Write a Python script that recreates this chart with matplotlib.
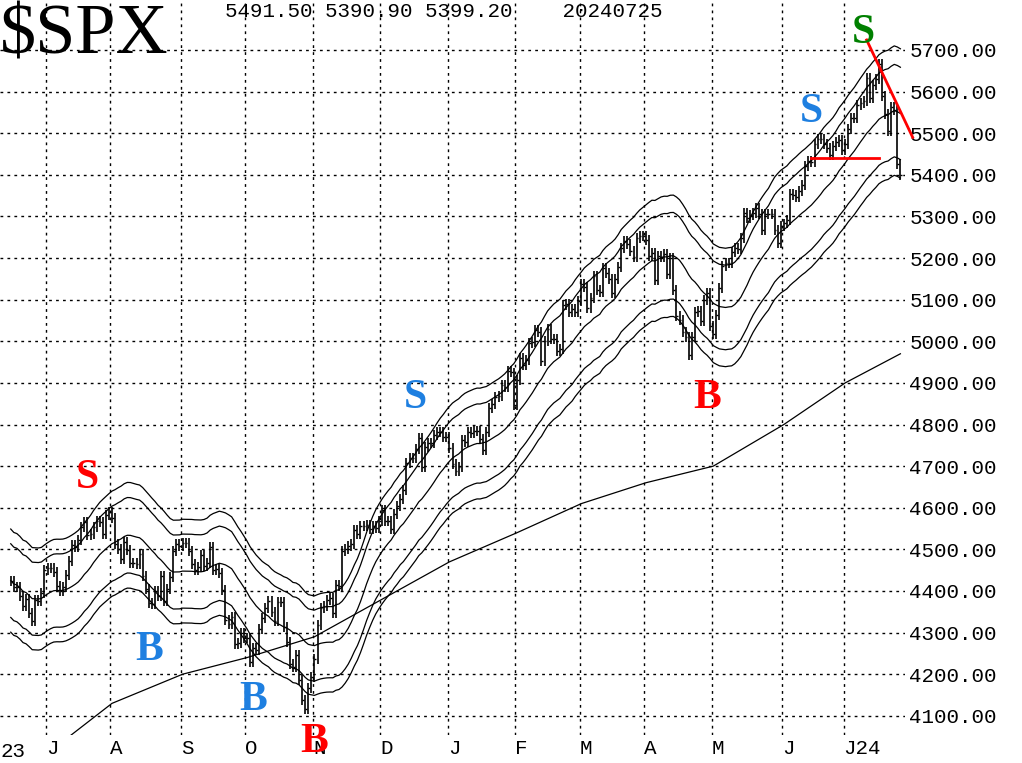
import numpy as np
import pandas as pd
import matplotlib
matplotlib.use("Agg")
import matplotlib.pyplot as plt

# daily closes, 2023-06-15 .. 2024-07-25 (business days)
closes = [
    4425, 4409,
    4409, 4388, 4365, 4381, 4348,
    4328, 4378, 4376, 4396, 4450,
    4455, 4455, 4446, 4411, 4399,
    4409, 4439, 4472, 4510, 4505,
    4522, 4554, 4565, 4534, 4536,
    4554, 4567, 4566, 4537, 4582,
    4589, 4576, 4513, 4501, 4478,
    4518, 4499, 4467, 4468, 4464,
    4489, 4437, 4404, 4370, 4369,
    4400, 4388, 4436, 4376, 4405,
    4433, 4497, 4514, 4507, 4515,
    4515, 4496, 4465, 4451, 4457,
    4487, 4461, 4467, 4505, 4450,
    4453, 4443, 4402, 4330, 4320,
    4337, 4273, 4274, 4299, 4288,
    4288, 4229, 4263, 4258, 4308,
    4335, 4358, 4376, 4349, 4327,
    4373, 4373, 4314, 4278, 4224,
    4217, 4247, 4186, 4137, 4117,
    4167, 4194, 4237, 4318, 4358,
    4365, 4378, 4382, 4347, 4415,
    4411, 4496, 4502, 4508, 4514,
    4547, 4538, 4556, 4556, 4559,
    4550, 4555, 4551, 4568, 4595,
    4569, 4567, 4549, 4585, 4604,
    4622, 4643, 4707, 4719, 4719,
    4740, 4768, 4698, 4747, 4755,
    4755, 4774, 4781, 4783, 4770,
    4770, 4743, 4705, 4689, 4697,
    4764, 4757, 4783, 4780, 4784,
    4784, 4766, 4739, 4781, 4840,
    4850, 4865, 4868, 4894, 4891,
    4928, 4925, 4846, 4906, 4959,
    4942, 4954, 4995, 4998, 5027,
    5022, 4953, 5001, 5030, 5006,
    5006, 4976, 4982, 5087, 5089,
    5070, 5078, 5070, 5096, 5137,
    5131, 5079, 5105, 5157, 5124,
    5118, 5175, 5165, 5150, 5117,
    5149, 5179, 5225, 5241, 5234,
    5218, 5203, 5248, 5254, 5254,
    5243, 5205, 5211, 5147, 5204,
    5202, 5209, 5161, 5199, 5123,
    5061, 5051, 5022, 5011, 4967,
    5010, 5070, 5072, 5048, 5100,
    5116, 5036, 5018, 5064, 5128,
    5181, 5187, 5187, 5214, 5223,
    5221, 5247, 5308, 5297, 5303,
    5308, 5321, 5307, 5268, 5305,
    5305, 5306, 5267, 5235, 5278,
    5283, 5291, 5354, 5352, 5347,
    5361, 5375, 5421, 5433, 5431,
    5473, 5487, 5487, 5473, 5465,
    5448, 5469, 5478, 5483, 5460,
    5475, 5509, 5537, 5537, 5567,
    5572, 5577, 5633, 5585, 5615,
    5631, 5667, 5589, 5545, 5505,
    5564, 5555, 5427, 5399,
]
dates = pd.bdate_range("2023-06-15", periods=len(closes))

ma200_dates = ["2023-07-12", "2023-08-01", "2023-09-01", "2023-10-02", "2023-11-01",
               "2023-12-01", "2024-01-02", "2024-02-01", "2024-03-01", "2024-04-01",
               "2024-05-01", "2024-06-03", "2024-07-01", "2024-07-25"]
ma200_vals = [4050, 4130, 4200, 4240, 4290, 4380, 4470, 4540, 4610, 4660,
              4700, 4800, 4900, 4970]

month_labels = ["J", "A", "S", "O", "N", "D", "J", "F", "M", "A", "M", "J", "J24"]
month_starts = ["2023-07-03", "2023-08-01", "2023-09-01", "2023-10-02", "2023-11-01",
                "2023-12-01", "2024-01-02", "2024-02-01", "2024-03-01", "2024-04-01",
                "2024-05-01", "2024-06-03", "2024-07-01"]
yticks = list(range(4100, 5800, 100))

signals = [("S", "2023-07-20", 4671, "red"), ("B", "2023-08-17", 4258, "#1e7fe0"),
           ("B", "2023-10-04", 4138, "#1e7fe0"), ("B", "2023-11-01", 4037, "red"),
           ("S", "2023-12-18", 4863, "#1e7fe0"), ("B", "2024-04-29", 4863, "red"),
           ("S", "2024-06-14", 5551, "#1e7fe0"), ("S", "2024-07-09", 5741, "green")]

s = pd.Series(closes, index=dates, dtype=float)
x = np.arange(len(s))
def xpos(d):
    return dates.searchsorted(pd.Timestamp(d))

ma = s.rolling(20, min_periods=1).mean()

fig = plt.figure(figsize=(10.22, 7.63), dpi=100)
ax = fig.add_axes([0, 28 / 763, 905 / 1022, 735 / 763])

prev = s.shift(1).fillna(s.iloc[0])
lo = np.minimum(prev, s) - 12
hi = np.maximum(prev, s) + 12
ax.vlines(x, lo, hi, color="black", lw=1.2)
ax.hlines(s.values, x, x + 0.6, color="black", lw=1)

for k in (1.0, 1.02, 1.028, 0.98, 0.972):
    ax.plot(x, ma.values * k, color="black", lw=0.9)

mx = [xpos(d) for d in ma200_dates]
ax.plot(mx, ma200_vals, color="black", lw=0.9)

for txt, d, yv, c in signals:
    ax.text(xpos(d), yv, txt, color=c, fontsize=30, fontweight="bold",
            family="Liberation Serif", ha="center", va="center", clip_on=False)

# red trend lines
ax.plot([xpos("2024-07-10"), xpos("2024-07-25") + 4], [5724, 5490], color="red",
        lw=2, clip_on=False)
ax.plot([xpos("2024-06-14"), xpos("2024-07-16")], [5440, 5440], color="red", lw=2)

mpos = [xpos(d) - 0.5 for d in month_starts]
ax.set_xticks(mpos)
ax.set_xticklabels(month_labels, family="Liberation Mono", fontsize=15, ha="left")
ax.text(0.0, -0.01, "23", transform=ax.transAxes, family="Liberation Mono",
        fontsize=15, va="top", ha="left", clip_on=False)
ax.set_yticks(yticks)
ax.set_yticklabels([f"{v}.00" for v in yticks], family="Liberation Mono", fontsize=15)
ax.yaxis.tick_right()
ax.tick_params(length=0, pad=3)
ax.grid(True, color="black", ls=(0, (2, 3)), lw=1)
for sp in ax.spines.values():
    sp.set_visible(False)
ax.set_xlim(-3.5, len(s) + 0.5)
ax.set_ylim(4054, 5820)

fig.text(0.0, 0.995, "$SPX", family="Liberation Serif", fontsize=52, va="top", ha="left")
fig.text(225 / 1022, 0.998, "5491.50 5390.90 5399.20    20240725",
         family="Liberation Mono", fontsize=15, va="top", ha="left")

fig.savefig("out.png", dpi=100)
